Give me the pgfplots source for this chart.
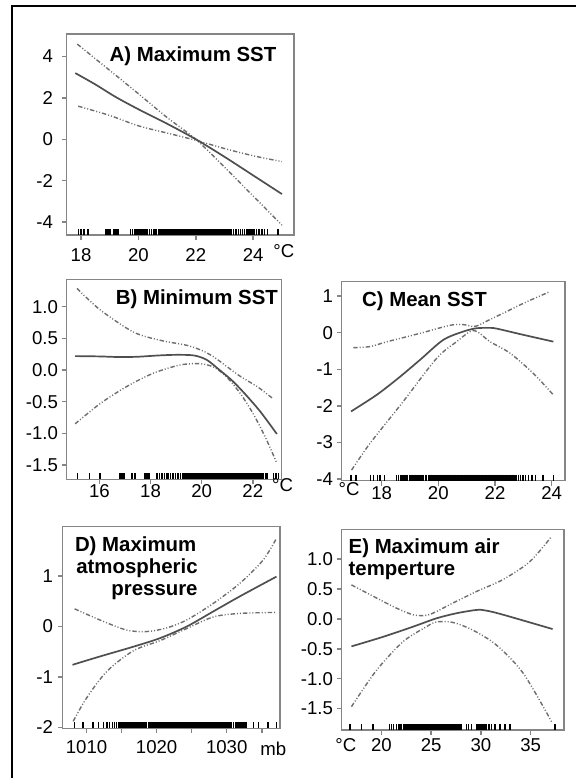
\documentclass[border=0pt]{standalone}
\usepackage{pgfplots}
\pgfplotsset{compat=1.18}
\usepackage{fontspec}
\setmainfont{Liberation Sans}
\definecolor{fitc}{HTML}{4F4F4F}
\definecolor{bandc}{HTML}{6E6E6E}
\definecolor{boxc}{HTML}{858585}
\pgfplotsset{
  rstyle/.style={
    scale only axis, anchor=north west,
    axis line style={boxc, line width=0.75pt},
    tick style={boxc, line width=0.75pt},
    major tick length=2.5pt, tick align=outside, tick pos=left,
    /pgf/number format/assume math mode=true,
    ticklabel style={font=\fontsize{9.3}{11}\selectfont, text=black},
    xticklabel style={inner sep=0pt, anchor=north},
    yticklabel style={inner sep=0pt, anchor=east},
  },
  fit/.style={fitc, line width=0.85pt, smooth, no markers},
  band/.style={bandc, line width=0.7pt, smooth, no markers,
    dash pattern=on 2.2pt off 1pt on 0.5pt off 1pt on 0.5pt off 1pt},
  rug/.style={black, only marks, mark=|, mark size=1.5pt,
    mark options={line width=0.75pt, yshift=1.5pt}},
}
\newcommand{\ttl}{\fontsize{10.2}{11}\selectfont\bfseries}
\newcommand{\tkf}{\fontsize{9.3}{11}\selectfont}
\begin{document}
\begin{tikzpicture}
\path[use as bounding box] (0,0) rectangle (288pt,-389pt);
\draw[line width=1pt] (6pt,-389pt) -- (6pt,-3pt) -- (288pt,-3pt);

% ---------------- A ----------------
\begin{axis}[rstyle, at={(33.35pt,-17pt)}, width=113.65pt, height=100.5pt,
  xmin=17.5, xmax=25.42, ymin=-4.63, ymax=5.09,
  xtick={18,20,22,24}, ytick={-4,-2,0,2,4},
  xticklabel style={yshift=-4pt}, yticklabel style={xshift=-4.2pt}]
\addplot[rug] table[row sep=\\, y expr=-4.63] {x\\17.91\\17.99\\18.10\\18.25\\18.87\\18.92\\18.97\\19.02\\19.15\\19.20\\19.25\\19.30\\19.72\\19.80\\19.88\\19.93\\19.98\\20.03\\20.08\\20.13\\20.18\\20.23\\20.30\\20.38\\20.45\\20.55\\20.62\\20.70\\20.75\\20.80\\20.85\\20.90\\20.95\\21.00\\21.05\\21.10\\21.15\\21.20\\21.25\\21.30\\21.35\\21.40\\21.45\\21.50\\21.55\\21.60\\21.65\\21.70\\21.75\\21.80\\21.85\\21.90\\21.95\\22.00\\22.05\\22.10\\22.15\\22.20\\22.25\\22.30\\22.35\\22.40\\22.45\\22.50\\22.55\\22.60\\22.65\\22.70\\22.75\\22.80\\22.85\\22.90\\22.95\\23.00\\23.05\\23.10\\23.15\\23.19\\23.25\\23.32\\23.40\\23.48\\23.55\\23.62\\23.70\\23.78\\23.85\\23.92\\24.00\\24.05\\24.12\\24.20\\24.30\\24.40\\24.50\\24.87\\};
\addplot[band] coordinates {(17.87,4.6) (19,3.33) (20,2.2) (21,1.05) (22,0.0) (23,-1.35) (24,-2.75) (25,-4.15)};
\addplot[band] coordinates {(17.9,1.6) (19,1.15) (20,0.65) (21,0.3) (22,-0.05) (23,-0.45) (24,-0.8) (25,-1.08)};
\addplot[fit] coordinates {(17.8,3.2) (18.5,2.65) (19.2,2.05) (20,1.45) (21,0.75) (22,0.0) (23,-0.85) (24,-1.75) (25,-2.65)};
\end{axis}
\node[anchor=base east, inner sep=0pt] at (138.35pt,-30.85pt) {\ttl A) Maximum SST};
\node[anchor=base west, inner sep=0pt] at (136.5pt,-128.5pt) {\tkf °C};

% ---------------- B ----------------
\begin{axis}[rstyle, at={(33.35pt,-139.65pt)}, width=107.5pt, height=100pt,
  xmin=14.72, xmax=23.13, ymin=-1.726, ymax=1.433,
  xtick={16,18,20,22}, ytick={-1.5,-1,-0.5,0,0.5,1},
  yticklabel style={xshift=-1.7pt, /pgf/number format/.cd, fixed, fixed zerofill, precision=1}]
\addplot[rug] table[row sep=\\, y expr=-1.726] {x\\15.14\\15.61\\16.02\\16.81\\16.86\\16.91\\16.96\\17.27\\17.40\\17.79\\17.84\\17.90\\17.96\\18.25\\18.35\\18.45\\18.55\\18.64\\18.70\\18.78\\18.85\\18.90\\18.98\\19.05\\19.10\\19.18\\19.25\\19.30\\19.38\\19.45\\19.50\\19.58\\19.65\\19.70\\19.78\\19.85\\19.90\\19.95\\20.00\\20.05\\20.10\\20.15\\20.20\\20.25\\20.30\\20.35\\20.40\\20.45\\20.50\\20.55\\20.60\\20.65\\20.70\\20.75\\20.80\\20.85\\20.90\\20.95\\21.00\\21.05\\21.10\\21.15\\21.20\\21.25\\21.30\\21.35\\21.40\\21.45\\21.50\\21.58\\21.65\\21.70\\21.78\\21.85\\21.92\\22.00\\22.05\\22.12\\22.20\\22.28\\22.35\\22.42\\22.50\\22.55\\22.80\\22.90\\23.00\\};
\addplot[band] coordinates {(15.12,1.29) (16.03,0.95) (17.33,0.6) (18.38,0.47) (19.42,0.39) (20.0,0.31) (20.46,0.21) (21.0,0.05) (21.51,-0.1) (22.2,-0.27) (22.81,-0.46)};
\addplot[band] coordinates {(15.05,-0.85) (16.03,-0.53) (17.07,-0.26) (18.11,-0.05) (19.16,0.08) (19.94,0.1) (20.5,0.04) (21.0,-0.12) (21.51,-0.37) (22.0,-0.68) (22.5,-1.07) (22.94,-1.47)};
\addplot[fit] coordinates {(15.05,0.22) (16,0.215) (16.8,0.205) (17.5,0.21) (18.3,0.23) (19,0.24) (19.7,0.23) (20.2,0.16) (20.7,0.0) (21.2,-0.17) (21.7,-0.38) (22.3,-0.66) (22.94,-1.01)};
\end{axis}
\node[anchor=base east, inner sep=0pt] at (139.15pt,-152pt) {\ttl B) Minimum SST};
\node[anchor=base west, inner sep=0pt] at (135.85pt,-245.5pt) {\tkf °C};

% ---------------- C ----------------
\begin{axis}[rstyle, at={(170.85pt,-140.85pt)}, width=111.65pt, height=99.5pt,
  xmin=16.59, xmax=24.47, ymin=-4.04, ymax=1.39,
  xtick={18,20,22,24}, ytick={-4,-3,-2,-1,0,1},
  yticklabel style={xshift=-1.7pt}]
\addplot[rug] table[row sep=\\, y expr=-4.04] {x\\16.92\\17.09\\17.60\\17.72\\17.85\\17.94\\18.10\\18.53\\18.60\\18.68\\18.76\\18.80\\18.86\\18.92\\18.98\\19.03\\19.08\\19.14\\19.20\\19.25\\19.30\\19.36\\19.42\\19.48\\19.54\\19.59\\19.65\\19.70\\19.75\\19.80\\19.85\\19.90\\19.95\\20.00\\20.05\\20.10\\20.15\\20.20\\20.25\\20.30\\20.35\\20.40\\20.45\\20.50\\20.55\\20.60\\20.65\\20.70\\20.75\\20.80\\20.85\\20.90\\20.95\\21.00\\21.05\\21.10\\21.15\\21.20\\21.25\\21.30\\21.35\\21.40\\21.45\\21.50\\21.55\\21.60\\21.65\\21.70\\21.75\\21.80\\21.85\\21.90\\21.95\\22.00\\22.05\\22.10\\22.15\\22.20\\22.25\\22.30\\22.35\\22.40\\22.45\\22.50\\22.55\\22.60\\22.65\\22.70\\22.75\\22.82\\22.90\\22.98\\23.08\\23.18\\23.30\\23.42\\23.70\\24.06\\};
\addplot[band] coordinates {(17.0,-0.41) (17.59,-0.38) (18.18,-0.25) (19.35,-0.02) (20.41,0.2) (20.88,0.22) (21.3,0.17) (21.8,0.35) (22.29,0.53) (23.0,0.8) (23.94,1.12)};
\addplot[band] coordinates {(16.94,-3.75) (17.59,-3.02) (18.76,-1.88) (19.94,-0.7) (20.65,-0.245) (21.25,0.06) (21.82,-0.245) (22.53,-0.56) (23.35,-1.11) (24.06,-1.7)};
\addplot[fit] coordinates {(16.92,-2.15) (17.82,-1.7) (18.59,-1.24) (19.35,-0.745) (20.17,-0.2) (20.88,0.03) (21.35,0.12) (21.8,0.13) (22.06,0.11) (23.0,-0.06) (24.06,-0.245)};
\end{axis}
\node[anchor=base west, inner sep=0pt] at (180.85pt,-153.35pt) {\ttl C) Mean SST};
\node[anchor=base west, inner sep=0pt] at (169.15pt,-247.5pt) {\tkf °C};

% ---------------- D ----------------
\begin{axis}[rstyle, at={(31.35pt,-263.35pt)}, width=108.65pt, height=100.8pt,
  xmin=1006.6, xmax=1037.6, ymin=-2.02, ymax=1.98,
  xtick={1010,1015,1020,1025,1030,1035}, xticklabels={1010,,1020,,1030,},
  ytick={-2,-1,0,1},
  xticklabel style={yshift=-3.3pt}, yticklabel style={xshift=-2.2pt}]
\addplot[rug] table[row sep=\\, y expr=-2.02] {x\\1008.3\\1009.5\\1010.9\\1011.7\\1012.4\\1012.9\\1013.3\\1013.7\\1014.0\\1014.3\\1014.6\\1014.9\\1015.2\\1015.5\\1015.7\\1015.9\\1016.1\\1016.3\\1016.5\\1016.7\\1016.9\\1017.1\\1017.3\\1017.5\\1017.7\\1017.9\\1018.1\\1018.3\\1018.5\\1018.9\\1019.2\\1019.5\\1019.7\\1019.9\\1020.1\\1020.3\\1020.5\\1020.7\\1020.9\\1021.1\\1021.3\\1021.5\\1021.7\\1021.9\\1022.1\\1022.3\\1022.5\\1022.7\\1022.9\\1023.1\\1023.3\\1023.5\\1023.7\\1023.9\\1024.1\\1024.3\\1024.5\\1024.7\\1024.9\\1025.1\\1025.3\\1025.5\\1025.7\\1025.9\\1026.1\\1026.3\\1026.5\\1026.7\\1026.9\\1027.1\\1027.3\\1027.5\\1027.7\\1027.9\\1028.1\\1028.3\\1028.5\\1028.7\\1028.9\\1029.1\\1029.3\\1029.5\\1029.7\\1029.9\\1030.1\\1030.3\\1030.5\\1030.7\\1031.0\\1031.3\\1031.6\\1031.8\\1032.0\\1032.2\\1032.4\\1032.6\\1032.8\\1033.8\\1034.5\\1035.9\\1037.1\\};
\addplot[band] coordinates {(1008.3,0.35) (1011.9,0.13) (1015.7,-0.07) (1018.6,-0.1) (1021.4,-0.03) (1024.3,0.13) (1028.1,0.46) (1031.9,0.86) (1035.2,1.32) (1037.1,1.75)};
\addplot[band] coordinates {(1008.1,-1.88) (1010,-1.42) (1012.9,-0.89) (1016.7,-0.48) (1020.5,-0.28) (1024.3,-0.04) (1028.1,0.19) (1031.9,0.26) (1037.1,0.28)};
\addplot[fit] coordinates {(1008.0,-0.76) (1011.9,-0.595) (1016.7,-0.4) (1020.5,-0.23) (1024.3,0.0) (1028.1,0.3) (1031.9,0.6) (1037.1,0.99)};
\end{axis}
\node[anchor=base east, inner sep=0pt] at (98.35pt,-275.85pt) {\ttl D) Maximum};
\node[anchor=base east, inner sep=0pt] at (99pt,-286.7pt) {\ttl atmospheric};
\node[anchor=base east, inner sep=0pt] at (99pt,-297.55pt) {\ttl pressure};
\node[anchor=base west, inner sep=0pt] at (130pt,-377.5pt) {\tkf mb};

% ---------------- E ----------------
\begin{axis}[rstyle, at={(170.85pt,-264.65pt)}, width=111.15pt, height=100.35pt,
  xmin=16, xmax=38.35, ymin=-1.86, ymax=1.5,
  xtick={20,25,30,35}, ytick={-1.5,-1,-0.5,0,0.5,1},
  xticklabel style={yshift=-1.5pt},
  yticklabel style={xshift=-1.7pt, /pgf/number format/.cd, fixed, fixed zerofill, precision=1}]
\addplot[rug] table[row sep=\\, y expr=-1.86] {x\\16.81\\17.99\\19.16\\20.8\\21.0\\21.2\\21.5\\21.7\\21.85\\22.0\\22.20\\22.35\\22.50\\22.65\\22.80\\22.95\\23.10\\23.25\\23.40\\23.55\\23.70\\23.85\\24.00\\24.15\\24.30\\24.45\\24.60\\24.75\\24.90\\25.05\\25.20\\25.35\\25.50\\25.65\\25.80\\25.95\\26.10\\26.25\\26.40\\26.55\\26.70\\26.85\\27.00\\27.15\\27.30\\27.45\\27.60\\27.75\\27.90\\28.05\\28.55\\28.75\\29.05\\29.56\\29.71\\29.86\\30.01\\30.16\\30.31\\30.40\\30.55\\30.80\\31.07\\31.4\\31.9\\32.4\\32.9\\37.43\\};
\addplot[band] coordinates {(16.98,0.57) (19.5,0.35) (21.51,0.18) (23.18,0.07) (24.53,0.06) (25.6,0.13) (26.87,0.24) (29.56,0.46) (32.23,0.66) (34.92,0.96) (37.1,1.38)};
\addplot[band] coordinates {(16.98,-1.47) (19.5,-0.86) (22.18,-0.38) (24.53,-0.13) (25.53,-0.05) (27.2,-0.06) (29.21,-0.19) (31.57,-0.44) (34.25,-0.91) (37.1,-1.72)};
\addplot[fit] coordinates {(16.98,-0.46) (20.16,-0.3) (23.18,-0.13) (25.53,0.01) (27.55,0.095) (29.56,0.15) (30.5,0.14) (32.23,0.07) (37.2,-0.17)};
\end{axis}
\node[anchor=base west, inner sep=0pt] at (174.15pt,-276.7pt) {\ttl E) Maximum air};
\node[anchor=base west, inner sep=0pt] at (174.15pt,-287.5pt) {\ttl temperture};
\node[anchor=base west, inner sep=0pt] at (167.5pt,-375.5pt) {\tkf °C};
\end{tikzpicture}
\end{document}
